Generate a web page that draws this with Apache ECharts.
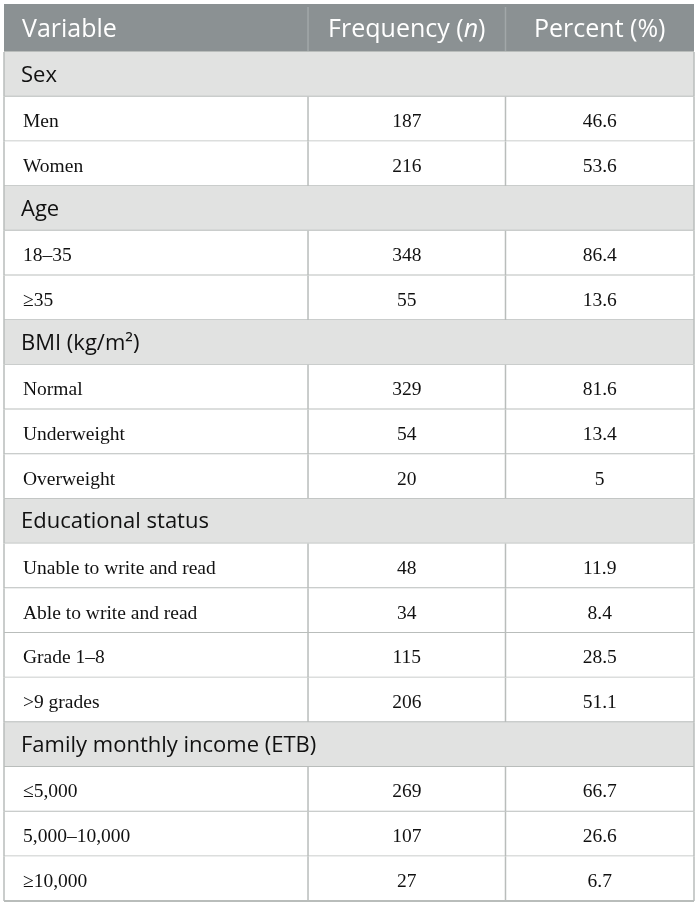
<!DOCTYPE html>
<html>
<head>
    <meta charset="UTF-8">
    <title>Table</title>
    <script src="https://cdn.jsdelivr.net/npm/echarts@6/dist/echarts.min.js"></script>
    <style type="text/css">
        html, body, #main {
            height: 100%;
            width: 100%;
            margin: 0;
            padding: 0;
            background: #fff;
        }
    </style>
</head>
<body>
<div id="main"></div>
<script type="text/javascript">
    // table contents
    var columns = ['Variable', 'Frequency ({i|n})', 'Percent (%)'];
    var groups = ['Sex', 'Age', 'BMI (kg/m²)', 'Educational status', 'Family monthly income (ETB)'];
    var categories = ['Men', 'Women', '18–35', '≥35', 'Normal', 'Underweight', 'Overweight',
        'Unable to write and read', 'Able to write and read', 'Grade 1–8', '>9 grades',
        '≤5,000', '5,000–10,000', '≥10,000'];
    var groupOf = [0, 0, 1, 1, 2, 2, 2, 3, 3, 3, 3, 4, 4, 4];
    var frequency = [187, 216, 348, 55, 329, 54, 20, 48, 34, 115, 206, 269, 107, 27];
    var percent = ['46.6', '53.6', '86.4', '13.6', '81.6', '13.4', '5', '11.9', '8.4', '28.5', '51.1', '66.7', '26.6', '6.7'];

    var HF = 48 / 44.68;          // header height relative to a body row
    var colEdges = [0, 0.4406, 0.7268, 1];
    var lineColor = '#b9bdbb';
    var sansFont = '"Open Sans", "Noto Sans", sans-serif';
    var serifFont = '"Liberation Serif", "DejaVu Serif", serif';

    // rows: [rowIndex, kind(0 header,1 group,2 item), index]
    var rows = [[0, 0, 0]];
    var r = 1, lastGroup = -1;
    for (var i = 0; i < categories.length; i++) {
        if (groupOf[i] !== lastGroup) {
            lastGroup = groupOf[i];
            rows.push([r++, 1, lastGroup]);
        }
        rows.push([r++, 2, i]);
    }
    var nRows = r;

    function rowSpan(k) {
        if (k === 0) return [0, HF];
        return [HF + k - 1, HF + k];
    }

    function renderItem(params, api) {
        var k = api.value(0), kind = api.value(1), idx = api.value(2);
        var span = rowSpan(k);
        var p0 = api.coord([0, span[0]]);
        var p1 = api.coord([1, span[1]]);
        var x0 = p0[0], y0 = p0[1], w = p1[0] - p0[0], h = p1[1] - p0[1];
        var xs = colEdges.map(function (e) { return x0 + e * w; });
        var yc = y0 + h / 2;
        var children = [];
        var fill = kind === 0 ? '#8b9193' : (kind === 1 ? '#e1e2e1' : '#ffffff');
        children.push({type: 'rect', shape: {x: x0, y: y0, width: w, height: h}, style: {fill: fill}});

        if (kind === 0) {
            for (var c = 0; c < 3; c++) {
                children.push({
                    type: 'text',
                    style: {
                        text: columns[c],
                        x: c === 0 ? xs[0] + 18 : (xs[c] + xs[c + 1]) / 2,
                        y: yc + 2,
                        align: c === 0 ? 'left' : 'center',
                        verticalAlign: 'middle',
                        fill: '#ffffff',
                        font: '25px ' + sansFont,
                        rich: {i: {fontStyle: 'italic', fontSize: 25, fontFamily: sansFont, fill: '#ffffff'}}
                    }
                });
            }
            for (var c2 = 1; c2 < 3; c2++) {
                children.push({type: 'line', shape: {x1: xs[c2], y1: y0 + 3, x2: xs[c2], y2: y0 + h},
                    style: {stroke: '#a2a7a9', lineWidth: 1.5}});
            }
        } else if (kind === 1) {
            children.push({
                type: 'text',
                style: {
                    text: groups[idx], x: xs[0] + 17, y: yc + 1,
                    align: 'left', verticalAlign: 'middle',
                    fill: '#111111', font: '22px ' + sansFont
                }
            });
        } else {
            var vals = [categories[idx], String(frequency[idx]), percent[idx]];
            for (var c3 = 0; c3 < 3; c3++) {
                children.push({
                    type: 'text',
                    style: {
                        text: vals[c3],
                        x: c3 === 0 ? xs[0] + 19 : (xs[c3] + xs[c3 + 1]) / 2,
                        y: yc + 3,
                        align: c3 === 0 ? 'left' : 'center',
                        verticalAlign: 'middle',
                        fill: '#111111',
                        font: '19.5px ' + serifFont
                    }
                });
            }
            for (var c4 = 1; c4 < 3; c4++) {
                children.push({type: 'line', shape: {x1: xs[c4], y1: y0, x2: xs[c4], y2: y0 + h},
                    style: {stroke: lineColor, lineWidth: 1.5}});
            }
        }
        // row bottom line and side borders
        children.push({type: 'line', shape: {x1: x0, y1: y0 + h, x2: x0 + w, y2: y0 + h},
            style: {stroke: lineColor, lineWidth: 1.8}});
        if (kind !== 0) {
            children.push({type: 'line', shape: {x1: x0, y1: y0, x2: x0, y2: y0 + h},
                style: {stroke: lineColor, lineWidth: 1.5}});
            children.push({type: 'line', shape: {x1: x0 + w, y1: y0, x2: x0 + w, y2: y0 + h},
                style: {stroke: lineColor, lineWidth: 1.5}});
        }
        return {type: 'group', children: children};
    }

    var mychart = echarts.init(document.getElementById('main'));
    var option = {
        animation: false,
        grid: {left: 4, top: 4, right: 6, bottom: 6},
        xAxis: {type: 'value', min: 0, max: 1, show: false},
        yAxis: {type: 'value', min: 0, max: HF + nRows - 1, inverse: true, show: false},
        series: [{
            type: 'custom',
            renderItem: renderItem,
            data: rows,
            clip: false
        }]
    };
    mychart.setOption(option);
</script>
</body>
</html>
